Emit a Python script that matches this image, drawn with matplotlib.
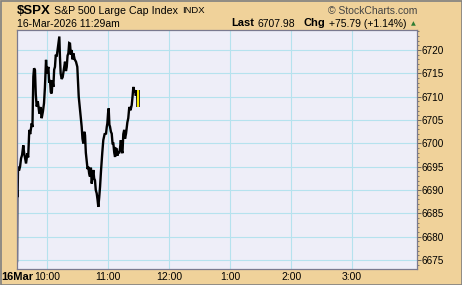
import matplotlib
matplotlib.use("Agg")
import matplotlib.pyplot as plt
from matplotlib.ticker import MultipleLocator
from matplotlib.patches import Rectangle

plt.rcParams['font.family'] = ['Liberation Sans', 'DejaVu Sans']

# minutes since 9:30 and price (traced)
minutes = [0, 0.3, 0.6, 1, 2, 3, 4, 5, 6.2, 7, 8.9, 10.2, 11, 12.1, 13, 14.5, 15.2, 16.1, 16.8,
           17.7, 18.5, 19.4, 20.5, 22, 23, 24.3, 25.5, 26.6, 27.5, 28.6, 29.5, 30.9, 31.7, 32.5,
           33.3, 34.2, 35, 35.8, 36.6, 37.4, 38.2, 39.1, 40.5, 41.7, 42.3, 43, 44, 45, 46.2, 47.3,
           48.2, 49, 49.8, 50.6, 51.4, 52.2, 53, 53.9, 54.7, 55.5, 56.8, 58.1, 59.4, 60.8, 62.1,
           63, 63.7, 64.5, 65.3, 66.2, 67, 67.8, 68.6, 69.5, 70.3, 71.1, 71.9, 72.8, 73.6, 74.4,
           75.2, 76, 76.8, 77.6, 78.5, 79.3, 80.1, 81, 81.8, 82.8, 84, 85, 86.3, 87.7, 88.4, 89,
           89.7, 90.3, 91, 91.6, 92.5, 93.3, 94.1, 94.9, 95.8, 96.6, 97.4, 98.2, 99, 99.8, 100.7,
           101.5, 102.3, 103.1, 103.9, 104.7, 105.6, 106.4, 107.4, 108.7, 109.6, 110.6, 111.8,
           113, 113.8, 114.6, 115.5, 116.3, 117.1, 117.9, 118.9]
prices = [6674.8, 6690.0, 6688.5, 6695.0, 6694.2, 6695.0, 6696.8, 6697.5, 6699.6, 6698.0,
          6695.7, 6697.9, 6697.0, 6702.9, 6702.0, 6704.3, 6703.5, 6714.3, 6716.1,
          6715.7, 6710.5, 6707.9, 6709.0, 6706.4, 6707.8, 6705.4, 6706.8, 6708.6, 6712.0,
          6717.9, 6715.0, 6716.4, 6713.0, 6713.6, 6711.0, 6710.7, 6713.5, 6712.1, 6715.8,
          6716.4, 6719.0, 6718.6, 6721.0, 6722.9, 6718.5, 6715.0, 6713.8, 6714.2, 6716.0,
          6717.5, 6715.5, 6716.4, 6718.8, 6719.3, 6721.5, 6721.4, 6719.0, 6720.0, 6718.0,
          6719.3, 6718.0, 6717.5, 6716.4, 6710.0, 6707.1, 6705.0, 6703.6, 6701.0, 6700.0,
          6702.5, 6701.8, 6698.0, 6696.4, 6694.5, 6695.0, 6693.5, 6692.9, 6694.8, 6691.4,
          6693.0, 6694.3, 6692.5, 6692.1, 6690.0, 6689.3, 6688.0, 6686.4, 6688.5, 6690.7,
          6694.3, 6698.0, 6700.7, 6702.0, 6702.1, 6703.5, 6704.3, 6706.5, 6707.5, 6704.0,
          6703.6, 6702.5, 6702.1, 6700.0, 6700.0, 6698.0, 6697.1, 6698.9, 6698.8, 6697.4,
          6698.2, 6697.9, 6699.0, 6700.7, 6698.5, 6697.9, 6702.0, 6702.9, 6701.0, 6702.1,
          6704.5, 6705.4, 6707.8, 6707.1, 6708.2, 6710.0, 6712.1, 6711.0, 6711.4, 6710.2,
          6711.4, 6709.6]
last_bar_min = 118.9
last_bar_range = [6711.4, 6707.9]

yticks = [6675, 6680, 6685, 6690, 6695, 6700, 6705, 6710, 6715, 6720]
xtick_min = [30, 90, 150, 210, 270, 330]
xtick_labels = ["10:00", "11:00", "12:00", "1:00", "2:00", "3:00"]

tan = "#F0D29A"
fig = plt.figure(figsize=(4.62, 2.85), dpi=100, facecolor=tan)
fig.patches.append(Rectangle((0.5/462, 0.5/285), 1 - 1/462, 1 - 1/285, transform=fig.transFigure,
                             fill=False, edgecolor="#808080", lw=1.2))

ax = fig.add_axes([17/462, 1 - 269/285, 400/462, 239.5/285])
ax.set_facecolor("#EEEEF8")
ax.set_xlim(0, 394)
ax.set_ylim(6673.1, 6724.4)

ax.plot(minutes, prices, color="black", lw=1.7, solid_joinstyle="miter")
ax.plot([last_bar_min, last_bar_min], last_bar_range, color="black", lw=2.6, solid_capstyle="butt")
ax.plot([last_bar_min, last_bar_min], last_bar_range, color="#FFF200", lw=1.4, solid_capstyle="butt")

ax.yaxis.tick_right()
ax.set_yticks(yticks)
ax.set_yticklabels([str(v) for v in yticks])
ax.yaxis.set_minor_locator(MultipleLocator(1))
ax.tick_params(axis='y', which='major', length=3, width=0.6, color="#555555", pad=0.5,
               labelsize=7.2, labelcolor="black")
ax.tick_params(axis='y', which='minor', length=1.5, width=0.5, color="#555555")

ax.set_xticks(xtick_min)
ax.set_xticklabels(xtick_labels)
ax.tick_params(axis='x', which='major', length=0, pad=2.5, labelsize=7.5)

ax.grid(True, color="#B5E2EE", lw=0.8)
ax.set_axisbelow(True)
for s in ax.spines.values():
    s.set_color("#7a7a90")
    s.set_linewidth(0.9)

fig.text(1/462, 1 - 277.5/285, "16Mar", fontsize=8, fontweight="bold", va="center", ha="left")

fig.text(17/462, 1 - 11/285, "$SPX", fontsize=9.5, fontweight="bold", va="center", ha="left")
fig.text(54/462, 1 - 10.5/285, "S&P 500 Large Cap Index", fontsize=7.7, va="center", ha="left")
fig.text(182/462, 1 - 10.5/285, "INDX", fontsize=6.8, va="center", ha="left")
fig.text(417/462, 1 - 10.5/285, "© StockCharts.com", fontsize=7.5, va="center", ha="right",
         color="#444444")
fig.text(17/462, 1 - 24/285, "16-Mar-2026 11:29am", fontsize=7.5, va="center", ha="left")
fig.text(231/462, 1 - 23.5/285, "Last", fontsize=8, fontweight="bold", va="center", ha="left")
fig.text(257/462, 1 - 24/285, "6707.98", fontsize=7.5, va="center", ha="left")
fig.text(303/462, 1 - 23.5/285, "Chg", fontsize=8, fontweight="bold", va="center", ha="left")
fig.text(329/462, 1 - 24/285, "+75.79 (+1.14%)", fontsize=7.5, va="center", ha="left")
fig.text(411/462, 1 - 24/285, "▲", fontsize=4.5, va="center", ha="left", color="#2E7D32",
         family="DejaVu Sans")

fig.savefig("out.png", dpi=100, facecolor=tan)
